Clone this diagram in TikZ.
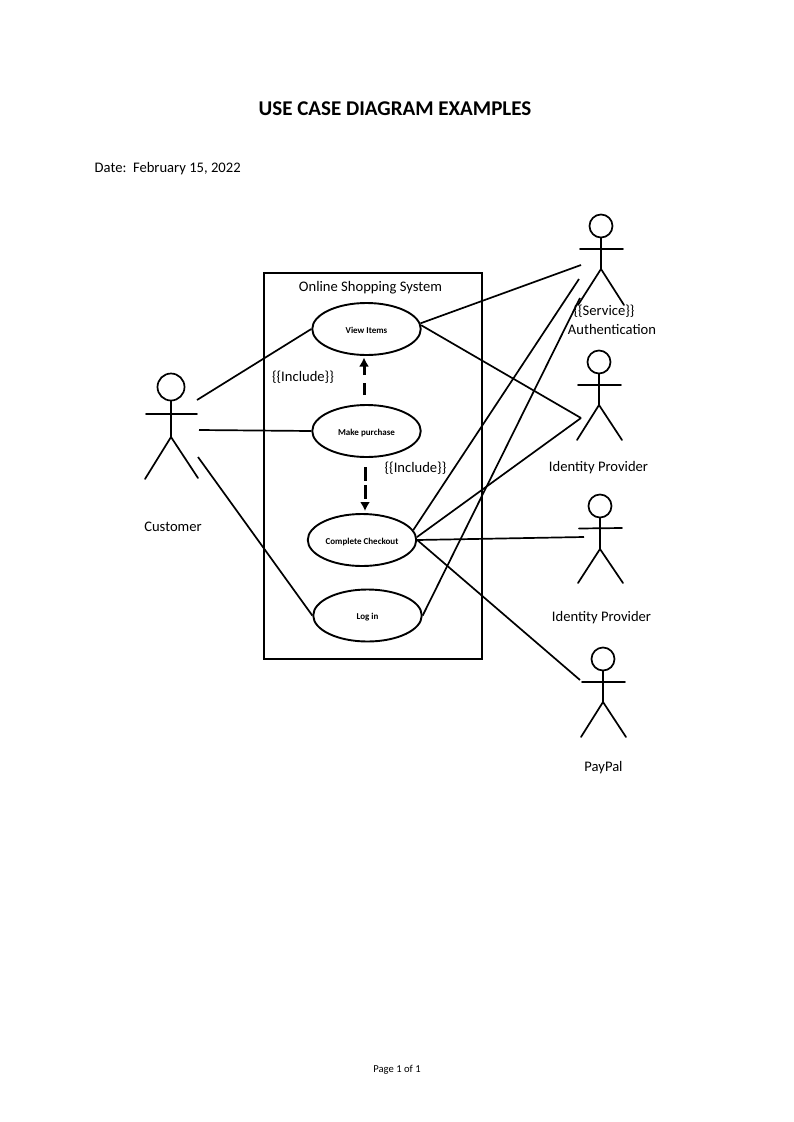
\documentclass[tikz,border=0pt]{standalone}
\usepackage{fontspec}
\setmainfont{Carlito}
\usetikzlibrary{shapes.geometric,arrows.meta}
\newcommand{\casetext}[1]{\raisebox{-4pt}[0pt][0pt]{#1}}
\tikzset{
  x=1pt,y=-1pt,
  lbl/.style={inner sep=0pt,anchor=center,font=\fontsize{14.6}{16}\selectfont,text=black},
  usecase/.style={ellipse,draw=black,line width=1.9pt,minimum width=108.5pt,minimum height=52pt,inner sep=0pt,font=\fontsize{9}{10}\selectfont\bfseries},
  conn/.style={line width=1.7pt,black},
  head/.style={circle,draw=black,line width=1.7pt,inner sep=0pt},
  limb/.style={line width=1.7pt,black,line cap=round},
  incl/.style={line width=3pt,black,-{Latex[length=9pt,width=10pt]}},
}
\begin{document}
\begin{tikzpicture}
\useasboundingbox (0,0) rectangle (793,1122);
\fill[white] (0,0) rectangle (793,1122);

\node[inner sep=0pt,font=\fontsize{21}{24}\selectfont\bfseries] (title) at (395,108.5) {USE CASE DIAGRAM EXAMPLES};
\node[lbl,anchor=west] (date) at (94.5,169) {Date:\ \ February 15, 2022};
\node[inner sep=0pt,font=\fontsize{10.6}{12}\selectfont] (page) at (397,1070) {Page 1 of 1};

% system boundary
\node[draw=black,line width=2pt,minimum width=218pt,minimum height=386pt,inner sep=0pt] (system) at (372.5,466) {};
\node[lbl] (systemlabel) at (370.5,288) {Online Shopping System};

% use cases
\node[usecase] (view) at (366.5,329) {\casetext{View Items}};
\node[usecase] (buy) at (366.5,431) {\casetext{Make purchase}};
\node[usecase] (checkout) at (362,540) {\casetext{Complete Checkout}};
\node[usecase] (login) at (367.5,615.5) {\casetext{Log in}};

% actors
\node[head,minimum size=27pt] (customer) at (171,387) {};
\coordinate (customerhip) at (171,437);
\draw[limb] (customer.south) -- (customerhip);
\draw[limb] (146,414) -- (197,414);
\draw[limb] (145,479) -- (customerhip) -- (198,478);
\coordinate (customerA) at (197,400);
\coordinate (customerB) at (199,430);
\coordinate (customerC) at (198,457);
\node[lbl] (customerlabel) at (173,527) {Customer};

\node[head,minimum size=23pt] (auth) at (601,226) {};
\coordinate (authhip) at (601,269);
\draw[limb] (auth.south) -- (authhip);
\draw[limb] (580,249) -- (623,249);
\draw[limb] (578,305) -- (authhip) -- (624,305);
\coordinate (authA) at (581,265);
\coordinate (authB) at (579,279);
\coordinate (authC) at (580,298);
\node[lbl] (service) at (604,311) {\{\{Service\}\}};
\node[lbl] (authlabel) at (612,329) {Authentication};

\node[head,minimum size=23pt] (idone) at (599,362) {};
\coordinate (idonehip) at (599,405);
\draw[limb] (idone.south) -- (idonehip);
\draw[limb] (578,385) -- (621,385);
\draw[limb] (577,440) -- (idonehip) -- (622,440);
\coordinate (idoneA) at (581,418);
\node[lbl] (idonelabel) at (598.5,468) {Identity Provider};

\node[head,minimum size=23pt] (idtwo) at (600,506) {};
\coordinate (idtwohip) at (600,549);
\draw[limb] (idtwo.south) -- (idtwohip);
\draw[limb] (579,528.5) -- (622,528);
\draw[limb] (578,583) -- (idtwohip) -- (623,583);
\coordinate (idtwoA) at (584,537);
\node[lbl] (idtwolabel) at (601.5,618) {Identity Provider};

\node[head,minimum size=23pt] (paypal) at (603,659) {};
\coordinate (paypalhip) at (603,702);
\draw[limb] (paypal.south) -- (paypalhip);
\draw[limb] (582,682) -- (625,682);
\draw[limb] (581,737) -- (paypalhip) -- (626,737);
\coordinate (paypalA) at (580,680);
\node[lbl] (paypallabel) at (603.5,768) {PayPal};

% associations
\draw[conn] (customerA) -- (view.west);
\draw[conn] (customerB) -- (buy.west);
\draw[conn] (customerC) -- (login.west);
\draw[conn] (view.6) -- (authA);
\draw[conn] (view.4) -- (idoneA);
\draw[conn] (checkout.11) -- (authB);
\draw[conn] (checkout.3) -- (idoneA);
\draw[conn] (checkout.east) -- (idtwoA);
\draw[conn] (checkout.east) -- (paypalA);
\draw[conn] (login.east) -- (authC);

% includes
\coordinate (inclA) at (364,395);
\coordinate (inclB) at (365,467);
\draw[incl,dash pattern=on 12pt off 8pt] (inclA) -- (364,357.5);
\draw[incl,dash pattern=on 14pt off 4pt] (inclB) -- (365,511);
\node[lbl] (inclabelA) at (303,377.5) {\{\{Include\}\}};
\node[lbl] (inclabelB) at (415.5,468) {\{\{Include\}\}};
\end{tikzpicture}
\end{document}
